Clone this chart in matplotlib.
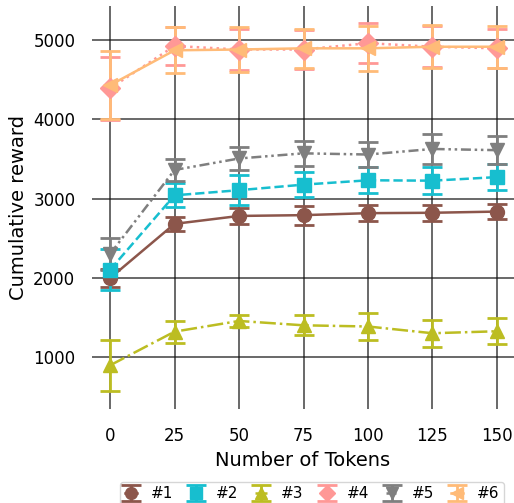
import numpy as np
import matplotlib
matplotlib.use('Agg')
import matplotlib.pyplot as plt

tokens = [0, 25, 50, 75, 100, 125, 150]
names = ['#1', '#2', '#3', '#4', '#5', '#6']

r1 = [1995, 2680, 2780, 2790, 2815, 2820, 2835]
e1 = [110, 90, 100, 120, 100, 100, 95]
r2 = [2100, 3040, 3105, 3175, 3230, 3225, 3270]
e2 = [260, 150, 190, 160, 165, 170, 160]
r3 = [895, 1320, 1455, 1400, 1385, 1300, 1325]
e3 = [320, 140, 80, 125, 175, 170, 165]
r4 = [4390, 4925, 4880, 4880, 4960, 4915, 4895]
e4 = [400, 240, 260, 240, 250, 260, 245]
r5 = [2300, 3360, 3505, 3570, 3555, 3625, 3610]
e5 = [200, 140, 150, 160, 155, 190, 175]
r6 = [4430, 4870, 4880, 4895, 4895, 4915, 4915]
e6 = [425, 290, 285, 245, 280, 270, 265]

means = [r1, r2, r3, r4, r5, r6]
errs = [e1, e2, e3, e4, e5, e6]
colors = ['#8c564b', '#17becf', '#bcbd22', '#ff9896', '#7f7f7f', '#ffbb78']
markers = ['o', 's', '^', 'D', 'v', '<']
styles = ['-', '--', '-.', ':', (0, (4, 1.5, 1, 1.5, 1, 1.5)), '-']

fig = plt.figure(figsize=(5.14, 5.03), dpi=100)
ax = fig.add_axes([92/514, 1 - 409/503, 1 - 92/514, (409 - 6)/503])

for i in range(6):
    ax.errorbar(tokens, means[i], yerr=errs[i], color=colors[i], marker=markers[i],
                linestyle=styles[i], linewidth=1.8, markersize=10, capsize=7,
                capthick=2, elinewidth=2, label=names[i])

ax.set_xlim(-7, 156.6)
ax.set_ylim(344, 5429)
ax.set_xticks(tokens)
ax.set_yticks([1000, 2000, 3000, 4000, 5000])
for s in ax.spines.values():
    s.set_visible(False)
ax.tick_params(length=0, labelsize=12, pad=12)
ax.tick_params(axis='x', pad=13)
ax.grid(True, color='#111111', linewidth=1.1, alpha=0.8)
ax.set_axisbelow(True)
ax.set_xlabel('Number of Tokens', fontsize=14)
ax.set_ylabel('Cumulative reward', fontsize=14)

fig.legend(loc='upper center', bbox_to_anchor=(312/514, 1 - 474/503), ncol=6,
           fontsize=11, handlelength=0.8, columnspacing=1.1, handletextpad=0.9,
           borderpad=0.3, markerscale=0.85)

fig.savefig('out.png', dpi=100)
